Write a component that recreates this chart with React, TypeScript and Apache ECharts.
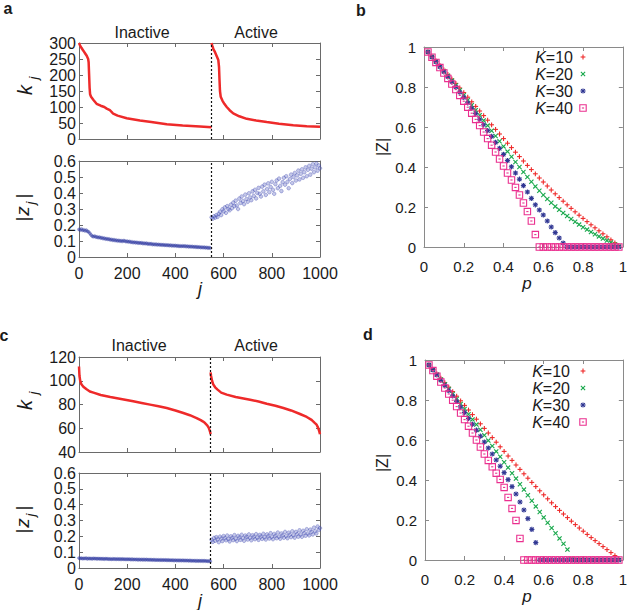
import React, { useEffect, useRef } from "react";
import * as echarts from "echarts";

// ---------------- Panel a (top: k_j, bottom: |z_j|) ----------------
const A_SPLIT = 550;
const A_K_INACTIVE: number[][] = [
  [0, 300], [4, 293], [10, 285], [18, 276], [25, 268], [32, 260], [38, 250], [40, 240],
  [42, 200], [44, 160], [46, 140], [50, 132], [60, 122], [73, 110], [90, 104], [105, 100],
  [115, 95], [128, 90], [135, 85], [142, 79], [160, 73], [198, 65], [253, 58], [300, 53],
  [364, 46], [430, 42], [502, 39], [550, 37],
];
const A_K_ACTIVE: number[][] = [
  [550, 300], [553, 292], [558, 280], [564, 272], [572, 258], [578, 247], [581, 225],
  [583, 185], [585, 150], [588, 132], [595, 120], [603, 110], [613, 100], [625, 90],
  [640, 80], [665, 71], [696, 63], [735, 58], [779, 53], [830, 48], [889, 43], [945, 40],
  [1000, 38],
];
const Z_STEP = 5;
const A_Z_INACTIVE_START = 0;
const A_Z_INACTIVE = [
  .172, .168, .175, .166, .170, .163, .168, .160, .157, .148,
  .138, .130, .127, .131, .124, .126, .121, .124, .118, .121,
  .115, .118, .112, .115, .110, .113, .107, .110, .104, .108,
  .103, .106, .100, .104, .099, .102, .097, .103, .100, .096,
  .099, .094, .097, .092, .095, .090, .093, .089, .092, .087,
  .090, .086, .089, .084, .087, .083, .086, .081, .084, .080,
  .083, .078, .081, .077, .080, .076, .079, .075, .078, .074,
  .077, .073, .076, .072, .075, .071, .074, .070, .073, .069,
  .072, .068, .071, .067, .070, .066, .070, .066, .069, .065,
  .068, .064, .067, .063, .066, .062, .065, .061, .064, .060,
  .063, .059, .062, .058, .061, .057, .060, .056, .059, .055,
];
const A_Z_ACTIVE_START = 550;
const A_Z_ACTIVE = [
  .248, .240, .255, .246, .262, .251, .270, .283, .262, .298,
  .285, .310, .276, .318, .300, .292, .327, .305, .340, .318,
  .352, .322, .300, .365, .338, .378, .350, .330, .390, .362,
  .345, .398, .372, .355, .410, .382, .420, .366, .400, .432,
  .395, .378, .440, .410, .452, .388, .425, .460, .405, .438,
  .470, .420, .395, .455, .478, .430, .490, .445, .412, .468,
  .495, .452, .505, .470, .430, .488, .515, .462, .500, .525,
  .478, .510, .540, .485, .520, .548, .495, .530, .560, .505,
  .545, .570, .515, .552, .580, .530, .560, .585, .540, .572,
  .555,
];

// ---------------- Panel c ----------------
const C_SPLIT = 546;
const C_K_INACTIVE: number[][] = [
  [0, 112], [2, 104], [5, 100], [10, 97], [18, 95], [30, 93], [45, 91], [60, 90], [90, 88],
  [130, 86.3], [180, 84.5], [225, 82.7], [260, 81.3], [295, 79.9], [330, 78.5], [364, 77],
  [400, 75], [433, 72.8], [460, 71], [488, 68.6], [505, 66.8], [515, 65.6], [523, 64.4],
  [532, 62.5], [538, 60.5], [541, 58.8], [544, 57], [546, 55],
];
const C_K_ACTIVE: number[][] = [
  [546, 107], [548, 104], [552, 100], [557, 97], [565, 94.5], [575, 92.5], [590, 90],
  [613, 88.3], [650, 86.3], [710, 84], [745, 82.5], [779, 80.7], [815, 79], [848, 77],
  [880, 75], [917, 72], [945, 69.5], [965, 67], [978, 64.5], [986, 63], [992, 60.5],
  [997, 57.4], [1000, 55],
];
const C_Z_INACTIVE_START = 0;
const C_Z_INACTIVE = [
  .063, .060, .062, .059, .061, .060, .062, .058, .061, .059,
  .060, .058, .061, .059, .060, .057, .060, .058, .059, .057,
  .059, .056, .059, .057, .058, .056, .058, .055, .058, .056,
  .057, .055, .058, .055, .057, .054, .057, .055, .056, .054,
  .056, .054, .056, .053, .056, .053, .055, .053, .055, .052,
  .055, .052, .054, .052, .054, .051, .054, .051, .053, .051,
  .053, .050, .053, .050, .052, .050, .052, .049, .052, .049,
  .051, .049, .051, .048, .051, .048, .050, .048, .050, .047,
  .050, .047, .049, .047, .049, .046, .049, .046, .048, .046,
  .048, .045, .048, .045, .047, .045, .047, .044, .047, .044,
  .046, .044, .046, .043, .046, .043, .045, .042, .045, .042,
];
const C_Z_ACTIVE_START = 550;
const C_Z_ACTIVE = [
  .178, .165, .190, .172, .195, .180, .163, .198, .185, .170,
  .202, .188, .175, .205, .182, .168, .200, .190, .176, .208,
  .185, .170, .203, .192, .178, .210, .188, .172, .205, .195,
  .180, .212, .190, .175, .207, .196, .182, .214, .192, .178,
  .209, .198, .184, .216, .194, .180, .212, .200, .186, .220,
  .196, .182, .215, .203, .188, .224, .198, .185, .218, .206,
  .191, .228, .202, .188, .223, .210, .195, .232, .207, .192,
  .228, .214, .198, .238, .212, .197, .235, .220, .204, .245,
  .218, .206, .242, .228, .212, .255, .232, .218, .262, .240,
  .252,
];

// ---------------- Panels b and d ----------------
const P_VALUES = [
  0.02, 0.04, 0.06, 0.08, 0.10, 0.12, 0.14, 0.16, 0.18, 0.20,
  0.22, 0.24, 0.26, 0.28, 0.30, 0.32, 0.34, 0.36, 0.38, 0.40,
  0.42, 0.44, 0.46, 0.48, 0.50, 0.52, 0.54, 0.56, 0.58, 0.60,
  0.62, 0.64, 0.66, 0.68, 0.70, 0.72, 0.74, 0.76, 0.78, 0.80,
  0.82, 0.84, 0.86, 0.88, 0.90, 0.92, 0.94, 0.96, 0.98,
];
const B_K10 = [
  .975, .952, .930, .908, .886, .863, .840, .818, .795, .772,
  .749, .726, .703, .680, .657, .634, .611, .588, .565, .542,
  .519, .497, .474, .452, .430, .408, .387, .366, .345, .325,
  .305, .285, .266, .247, .229, .211, .193, .176, .159, .143,
  .127, .111, .096, .081, .066, .051, .036, .021, .006,
];
const B_K20 = [
  .975, .951, .928, .904, .880, .856, .832, .808, .784, .759,
  .734, .709, .684, .659, .633, .607, .581, .555, .529, .503,
  .477, .451, .425, .400, .375, .350, .326, .303, .281, .260,
  .240, .221, .203, .186, .170, .155, .140, .126, .112, .099,
  .087, .075, .064, .053, .042, .032, .022, .012, .003,
];
const B_K30 = [
  .975, .950, .926, .901, .876, .851, .826, .800, .774, .748,
  .721, .694, .667, .639, .611, .582, .553, .523, .493, .463,
  .432, .401, .370, .339, .307, .275, .243, .211, .185, .160,
  .130, .100, .072, .045, .020, 0, 0, 0, 0, 0,
  0, 0, 0, 0, 0, 0, 0, 0, 0,
];
const B_K40 = [
  .975, .949, .923, .897, .870, .843, .815, .787, .758, .729,
  .699, .669, .638, .607, .575, .542, .509, .475, .440, .405,
  .370, .335, .298, .260, .220, .177, .130, .062, 0, 0,
  0, 0, 0, 0, 0, 0, 0, 0, 0, 0,
  0, 0, 0, 0, 0, 0, 0, 0, 0,
];
const D_K10 = [
  .975, .953, .931, .909, .887, .864, .842, .819, .796, .773,
  .750, .727, .704, .681, .658, .635, .612, .589, .566, .543,
  .520, .498, .475, .453, .431, .409, .388, .367, .346, .326,
  .306, .286, .267, .248, .230, .212, .194, .177, .160, .144,
  .128, .112, .097, .082, .067, .052, .037, .022, .007,
];
const D_K20 = [
  .975, .951, .927, .903, .879, .855, .830, .805, .780, .755,
  .729, .703, .677, .651, .624, .597, .570, .543, .516, .489,
  .462, .434, .407, .379, .352, .324, .296, .268, .240, .213,
  .186, .160, .134, .108, .081, .052, .005, 0, 0, 0,
  0, 0, 0, 0, 0, 0, 0, 0, 0,
];
const D_K30 = [
  .975, .950, .925, .899, .873, .847, .820, .793, .765, .737,
  .708, .679, .649, .619, .590, .560, .530, .500, .469, .437,
  .402, .367, .330, .290, .250, .207, .153, .087, 0, 0,
  0, 0, 0, 0, 0, 0, 0, 0, 0, 0,
  0, 0, 0, 0, 0, 0, 0, 0, 0,
];
const D_K40 = [
  .975, .947, .919, .890, .860, .830, .799, .767, .735, .702,
  .669, .635, .600, .565, .530, .498, .466, .434, .403, .363,
  .313, .258, .198, .108, 0, 0, 0, 0, 0, 0,
  0, 0, 0, 0, 0, 0, 0, 0, 0, 0,
  0, 0, 0, 0, 0, 0, 0, 0, 0,
];
const LEGEND_LABELS = ["10", "20", "30", "40"];

// ---------------- styling ----------------
const SANS = "'Liberation Sans', Arial, Helvetica, sans-serif";
const RED = "#ee2a2a";
const GREEN = "#17a84b";
const BLUE = "#2e3592";
const PINK = "#ea2f8f";
const MARK_COLORS = [RED, GREEN, BLUE, PINK];

const toPairs = (start: number, step: number, vals: number[]) =>
  vals.map((v, i) => [start + i * step, v]);

// gnuplot-like point shapes: 0 plus, 1 cross, 2 star, 3 box
function markerShapes(kind: number, cx: number, cy: number): any[] {
  const color = MARK_COLORS[kind];
  const ln = (x1: number, y1: number, x2: number, y2: number) => ({
    type: "line",
    silent: true,
    shape: { x1, y1, x2, y2 },
    style: { stroke: color, lineWidth: 1.1, fill: null },
  });
  if (kind === 0) return [ln(cx - 2.4, cy, cx + 2.4, cy), ln(cx, cy - 2.4, cx, cy + 2.4)];
  if (kind === 1)
    return [ln(cx - 2.1, cy - 2.1, cx + 2.1, cy + 2.1), ln(cx - 2.1, cy + 2.1, cx + 2.1, cy - 2.1)];
  if (kind === 2)
    return [
      ln(cx - 2.6, cy, cx + 2.6, cy),
      ln(cx, cy - 2.6, cx, cy + 2.6),
      ln(cx - 1.9, cy - 1.9, cx + 1.9, cy + 1.9),
      ln(cx - 1.9, cy + 1.9, cx + 1.9, cy - 1.9),
    ];
  return [
    {
      type: "rect",
      silent: true,
      shape: { x: cx - 3.2, y: cy - 3.2, width: 6.4, height: 6.4 },
      style: { fill: "none", stroke: color, lineWidth: 1.1 },
    },
    ln(cx - 1.1, cy, cx + 1.1, cy),
  ];
}

function buildOption() {
  const grids = [
    { left: 79, top: 43, width: 241, height: 96 }, // a top
    { left: 79, top: 161, width: 241, height: 96 }, // a bottom
    { left: 79, top: 357, width: 241, height: 95 }, // c top
    { left: 79, top: 473, width: 241, height: 95 }, // c bottom
    { left: 424, top: 47, width: 201, height: 200 }, // b
    { left: 425, top: 360, width: 200, height: 200 }, // d
  ];
  const xAxis: any[] = [];
  const yAxis: any[] = [];
  const addAxes = (
    g: number,
    xr: number[],
    yr: number[],
    xLabels: boolean,
    st: { color: string; fs: number; xm: number; ym: number }
  ) => {
    const base = (min: number, max: number, interval: number, pos: string, show: boolean, margin: number) => ({
      type: "value",
      gridIndex: g,
      min,
      max,
      interval,
      position: pos,
      axisLine: { show: true, onZero: false, lineStyle: { color: st.color, width: 1 } },
      axisTick: { show: true, inside: true, length: 4, lineStyle: { color: st.color } },
      axisLabel: {
        show,
        margin,
        color: "#1a1a1a",
        fontSize: st.fs,
        fontFamily: SANS,
        showMinLabel: true,
        showMaxLabel: true,
        formatter: (v: number) => String(v),
      },
      splitLine: { show: false },
    });
    xAxis.push(base(xr[0], xr[1], xr[2], "bottom", xLabels, st.xm));
    xAxis.push(base(xr[0], xr[1], xr[2], "top", false, 0));
    yAxis.push(base(yr[0], yr[1], yr[2], "left", true, st.ym));
    yAxis.push(base(yr[0], yr[1], yr[2], "right", false, 0));
  };
  const acSt = { color: "#6a6a6a", fs: 16, xm: 8, ym: 3 };
  const bdSt = { color: "#8a8a8a", fs: 15, xm: 12, ym: 8 };
  addAxes(0, [0, 1000, 200], [0, 300, 50], false, acSt);
  addAxes(1, [0, 1000, 200], [0, 0.6, 0.1], true, acSt);
  addAxes(2, [0, 1000, 200], [40, 120, 20], false, acSt);
  addAxes(3, [0, 1000, 200], [0, 0.6, 0.1], true, acSt);
  addAxes(4, [0, 1, 0.2], [0, 1, 0.2], true, bdSt);
  addAxes(5, [0, 1, 0.2], [0, 1, 0.2], true, bdSt);

  const dotted = (x: number) => ({
    silent: true,
    symbol: ["none", "none"],
    label: { show: false },
    lineStyle: { color: "#111", type: [2, 2], width: 1.2 },
    data: [{ xAxis: x }],
  });
  const kLine = (g: number, data: number[][], mark?: number) => ({
    type: "line",
    xAxisIndex: 2 * g,
    yAxisIndex: 2 * g,
    data,
    showSymbol: false,
    lineStyle: { color: RED, width: 2.5 },
    silent: true,
    ...(mark !== undefined ? { markLine: dotted(mark) } : {}),
  });
  const zScatter = (g: number, data: number[][], dense: boolean, mark?: number) => ({
    type: "scatter",
    xAxisIndex: 2 * g,
    yAxisIndex: 2 * g,
    data,
    symbol: "circle",
    symbolSize: dense ? 3.2 : 3.6,
    itemStyle: dense
      ? { color: "rgba(55,65,165,0.65)", borderColor: "rgba(55,65,165,0.5)", borderWidth: 0.5 }
      : { color: "rgba(95,105,195,0.45)", borderColor: "rgba(60,70,175,0.65)", borderWidth: 0.7 },
    silent: true,
    ...(mark !== undefined ? { markLine: dotted(mark) } : {}),
  });
  const pMarks = (g: number, vals: number[], kind: number) => ({
    type: "custom",
    xAxisIndex: 2 * g,
    yAxisIndex: 2 * g,
    data: P_VALUES.map((p, i) => [p, vals[i]]),
    encode: { x: 0, y: 1 },
    clip: false,
    silent: true,
    renderItem: (_params: any, api: any) => {
      const pt = api.coord([api.value(0), api.value(1)]);
      return { type: "group", children: markerShapes(kind, pt[0], pt[1]) };
    },
  });

  const series: any[] = [
    kLine(0, A_K_INACTIVE),
    kLine(0, A_K_ACTIVE, A_SPLIT),
    zScatter(1, toPairs(A_Z_INACTIVE_START, Z_STEP, A_Z_INACTIVE), true),
    zScatter(1, toPairs(A_Z_ACTIVE_START, Z_STEP, A_Z_ACTIVE), false, A_SPLIT),
    kLine(2, C_K_INACTIVE),
    kLine(2, C_K_ACTIVE, C_SPLIT),
    zScatter(3, toPairs(C_Z_INACTIVE_START, Z_STEP, C_Z_INACTIVE), true),
    zScatter(3, toPairs(C_Z_ACTIVE_START, Z_STEP, C_Z_ACTIVE), false, C_SPLIT),
    pMarks(4, B_K10, 0),
    pMarks(4, B_K20, 1),
    pMarks(4, B_K30, 2),
    pMarks(4, B_K40, 3),
    pMarks(5, D_K10, 0),
    pMarks(5, D_K20, 1),
    pMarks(5, D_K30, 2),
    pMarks(5, D_K40, 3),
  ];

  // ----- texts -----
  const T = (x: number, y: number, text: string, o: any = {}) => ({
    type: "text",
    x,
    y,
    silent: true,
    style: {
      text,
      fill: "#1a1a1a",
      fontSize: 15,
      fontFamily: SANS,
      align: "center",
      verticalAlign: "middle",
      ...o,
    },
  });
  const kjLabel = (x: number, y: number) => ({
    type: "group",
    x,
    y,
    rotation: Math.PI / 2,
    children: [
      T(0, 0, "k", { fontSize: 20, fontStyle: "italic" }),
      T(12, 8, "j", { fontSize: 13, fontStyle: "italic" }),
    ],
  });
  const zjLabel = (x: number, y: number) => ({
    type: "group",
    x,
    y,
    rotation: Math.PI / 2,
    children: [
      T(-11, 0, "|", { fontSize: 19 }),
      T(-3, 0, "z", { fontSize: 19, fontStyle: "italic" }),
      T(5, 8, "j", { fontSize: 13, fontStyle: "italic" }),
      T(12, 0, "|", { fontSize: 19 }),
    ],
  });
  const bigZ = (x: number, y: number) => ({
    type: "group",
    x,
    y,
    rotation: Math.PI / 2,
    children: [T(0, 0, "|Z|", { fontSize: 16 })],
  });
  const legend = (rows: number[], textRight: number, markX: number) => {
    const out: any[] = [];
    rows.forEach((y, i) => {
      out.push(
        T(textRight, y, `{i|K}=${LEGEND_LABELS[i]}`, {
          align: "right",
          fontSize: 16,
          rich: { i: { fontStyle: "italic", fontSize: 16, fontFamily: SANS, fill: "#1a1a1a" } },
        })
      );
      out.push(...markerShapes(i, markX, y));
    });
    return out;
  };

  const graphic: any[] = [
    T(8, 8, "a", { fontSize: 16, fontWeight: "bold" }),
    T(361, 10, "b", { fontSize: 16, fontWeight: "bold" }),
    T(4, 335, "c", { fontSize: 16, fontWeight: "bold" }),
    T(368, 334, "d", { fontSize: 16, fontWeight: "bold" }),
    T(142, 32, "Inactive", { fontSize: 16 }),
    T(256, 32, "Active", { fontSize: 16 }),
    T(139, 345, "Inactive", { fontSize: 16 }),
    T(256, 345, "Active", { fontSize: 16 }),
    kjLabel(25, 90),
    zjLabel(22, 208),
    T(200, 289, "j", { fontSize: 18, fontStyle: "italic" }),
    kjLabel(25, 405),
    zjLabel(22, 520),
    T(200, 601, "j", { fontSize: 18, fontStyle: "italic" }),
    bigZ(382, 147),
    bigZ(382, 463),
    T(527, 283, "p", { fontSize: 17, fontStyle: "italic" }),
    T(527, 596, "p", { fontSize: 17, fontStyle: "italic" }),
    ...legend([57, 74, 91, 108], 573, 583),
    ...legend([371, 388, 405, 422], 570, 583),
  ];

  return {
    animation: false,
    backgroundColor: "#ffffff",
    grid: grids,
    xAxis,
    yAxis,
    series,
    graphic,
  };
}

export default function App() {
  const ref = useRef<HTMLDivElement>(null);
  useEffect(() => {
    if (!ref.current) return;
    const chart = echarts.init(ref.current, undefined, { renderer: "svg" });
    chart.setOption(buildOption() as any);
    return () => chart.dispose();
  }, []);
  return (
    <div
      ref={ref}
      style={{ position: "absolute", left: 0, top: 0, width: 630, height: 610, background: "#fff" }}
    />
  );
}
